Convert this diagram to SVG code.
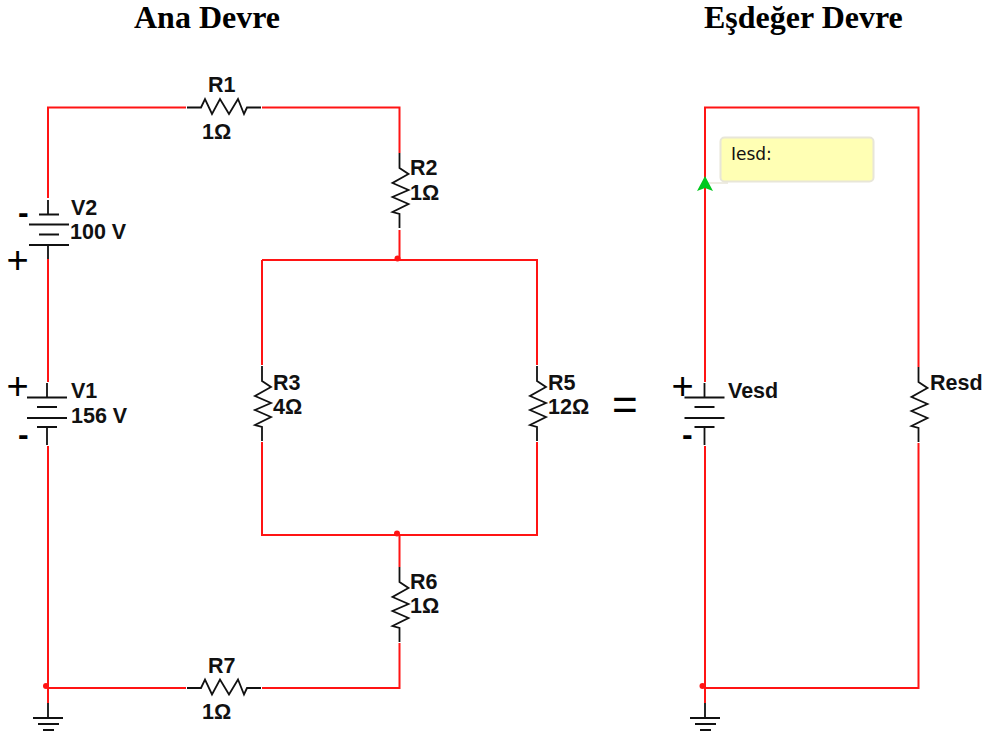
<svg xmlns="http://www.w3.org/2000/svg" width="985" height="735" viewBox="0 0 985 735">
<defs>
<style>
.w{fill:none;stroke:#ff1414;stroke-width:2}
.k{fill:none;stroke:#111;stroke-width:1.800}
.l{font-family:"Liberation Sans",Arial,sans-serif;font-weight:bold;font-size:21.500px;fill:#111}
.t{font-family:"Liberation Serif","Times New Roman",serif;font-weight:bold;font-size:32px;fill:#000}
.s{font-family:"Liberation Sans",Arial,sans-serif;fill:#000}
.j{fill:#ff1414}
</style>
<path id="rh" class="k" d="M0 0H14L18 -8.500L25 6.500L33 -8.500L42 6.500L51 -8.500L57 6.500L60 0H74"/>
<path id="rv" class="k" d="M0 0V15L9 21L-7 30L9 37L-7 44L9 51L-7 59L0 61V75"/>
<path id="gnd" class="k" d="M0 0V15M-15 15H15M-10 21H11M-5 27H6"/>
<path id="bat" class="k" d="M0 0V14M-20 14.500H20M-10 24H10M-20 35H20M-10 44H10M0 44V62"/>
</defs>
<g id="connectors">
<path class="w" d="M186 107.500H48V198M48 259V382M48 446V703M186 688H48M262 107.500H399.500V153M399.500 230V260M262 260H537V365M537 442V535H262V442M262 365V260M399.500 535V567M399.500 643V688H262"/>
<path class="w" d="M705 382V107.500H918.500V367M918.500 443V688H705M705 446V703"/>
</g>
<g id="title-left"><text class="t" x="134" y="28">Ana Devre</text></g>
<g id="title-right"><text class="t" x="704" y="28">Eşdeğer Devre</text></g>
<g id="R1"><use href="#rh" x="187" y="107.500"/><text class="l" x="208" y="92">R1</text><text class="l" x="202" y="139">1Ω</text></g>
<g id="R2"><use href="#rv" x="399.500" y="153"/><text class="l" x="410" y="175">R2</text><text class="l" x="410" y="200">1Ω</text></g>
<g id="R3"><use href="#rv" x="262" y="366"/><text class="l" x="273" y="390">R3</text><text class="l" x="273" y="414">4Ω</text></g>
<g id="R5"><use href="#rv" x="537" y="366"/><text class="l" x="548" y="390">R5</text><text class="l" x="548" y="414">12Ω</text></g>
<g id="R6"><use href="#rv" x="399.500" y="567"/><text class="l" x="410" y="589">R6</text><text class="l" x="410" y="613">1Ω</text></g>
<g id="R7"><use href="#rh" x="187" y="688"/><text class="l" x="208" y="673">R7</text><text class="l" x="202" y="719">1Ω</text></g>
<g id="Resd"><use href="#rv" x="918.500" y="367"/><text class="l" x="930" y="390">Resd</text></g>
<g id="V2"><path class="k" d="M48 200V214M39 214.500H59M29 224.500H69M39 234.500H59M29 245H69M48 245V259"/>
<text class="l" x="71" y="215">V2</text><text class="l" x="70" y="239">100 V</text>
<text class="s" x="18" y="223" font-size="32" font-weight="bold">-</text><text class="s" x="6.500" y="273" font-size="38">+</text></g>
<g id="V1"><use href="#bat" x="47" y="383"/>
<text class="l" x="71" y="398">V1</text><text class="l" x="71" y="423">156 V</text>
<text class="s" x="6.500" y="399" font-size="38">+</text><text class="s" x="18" y="445" font-size="32" font-weight="bold">-</text></g>
<g id="Vesd"><use href="#bat" x="704.500" y="383"/>
<text class="l" x="728" y="398">Vesd</text>
<text class="s" x="671.500" y="399" font-size="38">+</text><text class="s" x="682" y="445" font-size="32" font-weight="bold">-</text></g>
<g id="equals"><text class="s" x="612" y="419.500" font-size="44">=</text></g>
<g id="gnd-left"><use href="#gnd" x="48" y="703"/></g>
<g id="gnd-right"><use href="#gnd" x="705" y="703"/></g>
<g id="junctions"><circle class="j" cx="397.500" cy="258.500" r="3"/><circle class="j" cx="397" cy="533.500" r="3"/><circle class="j" cx="46" cy="686" r="3"/><circle class="j" cx="702.500" cy="686" r="3"/></g>
<g id="probe">
<path d="M705 183H728" fill="none" stroke="#e8e6d8" stroke-width="1.500"/>
<rect x="720.500" y="137.500" width="153" height="44" rx="4" fill="#ffffb4" stroke="#e8e6d8" stroke-width="2"/>
<text x="731" y="160" font-family="'DejaVu Sans',Verdana,sans-serif" font-size="17" fill="#111">Iesd:</text>
<path d="M705 176L713 191L705 188L697 191Z" fill="#00c81e"/>
</g>
</svg>
